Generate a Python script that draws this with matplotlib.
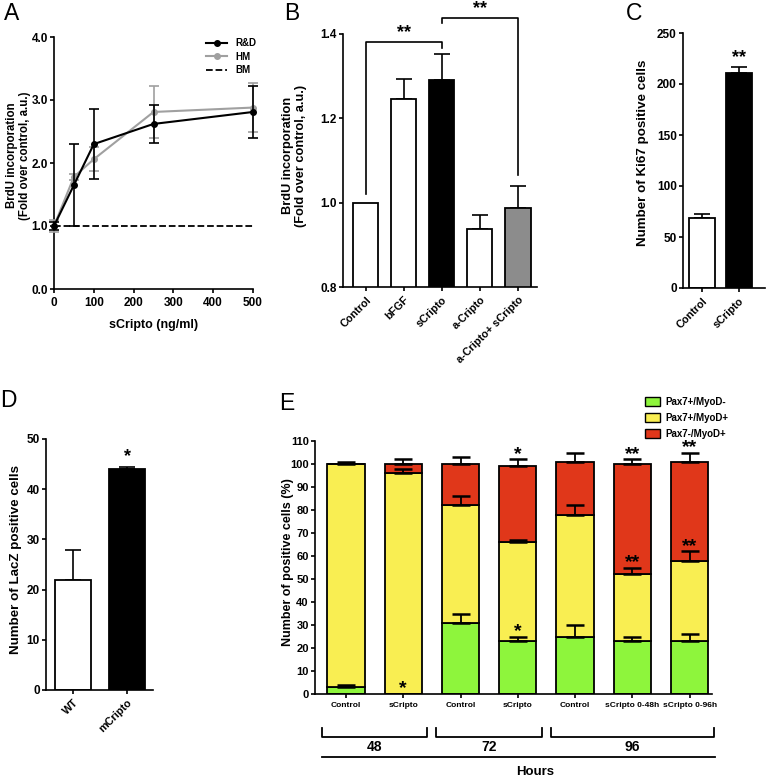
import matplotlib
matplotlib.use('Agg')
import matplotlib.pyplot as plt
import numpy as np
from matplotlib import transforms
from matplotlib import font_manager as fm
from matplotlib.patches import Patch
from matplotlib.lines import Line2D

W, H = 768, 780
plt.rcParams['font.family'] = ['Liberation Sans', 'DejaVu Sans']
plt.rcParams['font.weight'] = 'bold'
plt.rcParams['axes.labelweight'] = 'bold'
plt.rcParams['axes.linewidth'] = 1.2
plt.rcParams['xtick.major.width'] = 1.2
plt.rcParams['ytick.major.width'] = 1.2
plt.rcParams['xtick.major.size'] = 3
plt.rcParams['ytick.major.size'] = 3

# narrow bold font for the crowded labels of panel E, if installed
_has_narrow_bold = any(f.name == 'Liberation Sans Narrow' and f.weight in (700, 'bold')
                       for f in fm.fontManager.ttflist)
if _has_narrow_bold:
    E_TICK_FONT = dict(family=['Liberation Sans Narrow', 'Liberation Sans'], size=7.2)
else:
    E_TICK_FONT = dict(family=['Liberation Sans', 'DejaVu Sans'], size=6.0)

# ---------------- data ----------------
# Panel A
dose = [0, 50, 100, 250, 500]
rd_mean = [1.0, 1.65, 2.30, 2.62, 2.81]
rd_err = [0.07, 0.65, 0.55, 0.30, 0.42]
hm_mean = [1.0, 1.78, 2.06, 2.81, 2.88]
hm_err = [0.10, 0.05, 0.19, 0.41, 0.39]
bm_level = 1.0
a_series = ['R&D', 'HM', 'BM']

# Panel B
b_cats = ['Control', 'bFGF', 'sCripto', 'a-Cripto', 'a-Cripto+ sCripto']
b_mean = [1.0, 1.245, 1.29, 0.937, 0.988]
b_err = [0.0, 0.048, 0.063, 0.033, 0.052]
b_colors = ['white', 'white', 'black', 'white', '#8c8c8c']

# Panel C
c_cats = ['Control', 'sCripto']
c_mean = [69, 211]
c_err = [4, 6]
c_colors = ['white', 'black']

# Panel D
d_cats = ['WT', 'mCripto']
d_mean = [22, 44]
d_err = [5.8, 0.5]
d_colors = ['white', 'black']

# Panel E
e_cats = ['Control', 'sCripto', 'Control', 'sCripto', 'Control', 'sCripto 0-48h', 'sCripto 0-96h']
e_green = [3, 0, 31, 23, 25, 23, 23]
e_green_err = [1, 0, 4, 2, 5, 2, 3]
e_yellow = [97, 96, 51, 43, 53, 29, 35]
e_yellow_err = [0, 2, 4, 1, 4, 3, 4]
e_red = [0, 4, 18, 33, 23, 48, 43]
e_red_err = [1, 2, 3, 3, 4, 2, 4]
e_series = ['Pax7+/MyoD-', 'Pax7+/MyoD+', 'Pax7-/MyoD+']
e_colors = ['#8ef53c', '#f9ee52', '#e0371a']
hours = ['48', '72', '96']
hour_sizes = [2, 2, 3]
# (bar index, segment, stars)
e_stars = [(1, 0, '*'), (3, 0, '*'), (3, 2, '*'), (5, 1, '**'), (5, 2, '**'), (6, 1, '**'), (6, 2, '**')]


def rect(l, t, r, b):
    return [l / W, 1 - b / H, (r - l) / W, (b - t) / H]


def style(ax):
    for s in ['top', 'right']:
        ax.spines[s].set_visible(False)
    ax.tick_params(direction='out', labelsize=8.5)
    ax.tick_params(axis='y', pad=1.5)
    ax.tick_params(axis='x', pad=2.5)


fig = plt.figure(figsize=(W / 100, H / 100), dpi=100)
LETTER = dict(fontsize=16.5, fontweight='normal', va='top', family='Liberation Sans')

# ---------------- A ----------------
axA = fig.add_axes(rect(54, 37, 253, 289))
style(axA)
a_colors = ['black', '#a0a0a0']
axA.errorbar(dose, hm_mean, yerr=hm_err, color=a_colors[1], marker='o', ms=4, lw=1.5,
             capsize=3.5, elinewidth=1.2, capthick=1.2, clip_on=False, zorder=3)
axA.errorbar(dose, rd_mean, yerr=rd_err, color=a_colors[0], marker='o', ms=4, lw=1.5,
             capsize=3.5, elinewidth=1.2, capthick=1.2, clip_on=False, zorder=4)
axA.plot([dose[0], dose[-1]], [bm_level, bm_level], 'k--', lw=1.3)
axA.set_xlim(0, 500)
axA.set_ylim(0, 4)
axA.set_xticks([0, 100, 200, 300, 400, 500])
axA.set_yticks([0, 1, 2, 3, 4])
axA.set_yticklabels(['0.0', '1.0', '2.0', '3.0', '4.0'])
axA.set_xlabel('sCripto (ng/ml)', fontsize=9)
axA.set_ylabel('BrdU incorporation\n(Fold over control, a.u.)', fontsize=8.3, linespacing=1.1)
axA.yaxis.set_label_coords(-0.118, 0.53)
axA.xaxis.set_label_coords(0.5, -0.12)
leg_handles = [Line2D([], [], color=a_colors[0], marker='o', ms=4, lw=1.5),
               Line2D([], [], color=a_colors[1], marker='o', ms=4, lw=1.5),
               Line2D([], [], color='black', ls='--', lw=1.3)]
axA.legend(leg_handles, a_series, loc='upper right', frameon=False,
           fontsize=7, handlelength=2.2, bbox_to_anchor=(1.06, 1.03), labelspacing=0.35)
fig.text(4 / W, 1 - 2 / H, 'A', **LETTER)

# ---------------- B ----------------
axB = fig.add_axes(rect(343, 34, 537, 287))
style(axB)
xb = np.arange(len(b_cats))
axB.bar(xb, b_mean, width=0.66, color=b_colors, edgecolor='black', linewidth=1.3, zorder=2)
for xi, m, e in zip(xb, b_mean, b_err):
    if e > 0:
        axB.errorbar(xi, m, yerr=[[0], [e]], color='black', capsize=6, elinewidth=1.2, capthick=1.2, zorder=1)
axB.set_ylim(0.8, 1.4)
axB.set_xlim(-0.6, 4.5)
axB.set_yticks([0.8, 1.0, 1.2, 1.4])
axB.set_xticks(xb)
axB.set_xticklabels(b_cats, rotation=45, ha='right', rotation_mode='anchor', fontsize=7.8)
axB.set_ylabel('BrdU incorporation\n(Fold over control, a.u.)', fontsize=9.2, linespacing=1.1)
axB.yaxis.set_label_coords(-0.185, 0.52)
# significance brackets
axB.plot([0, 0, 2, 2], [1.021, 1.381, 1.381, 1.367], color='black', lw=1.2, clip_on=False)
axB.text(1, 1.383, '**', ha='center', va='bottom', fontsize=13)
axB.plot([2, 2, 4, 4], [1.426, 1.438, 1.438, 1.066], color='black', lw=1.2, clip_on=False)
axB.text(3, 1.44, '**', ha='center', va='bottom', fontsize=13)
fig.text(284 / W, 1 - 2 / H, 'B', **LETTER)

# ---------------- C ----------------
axC = fig.add_axes(rect(683, 33, 765, 288))
style(axC)
xc = np.arange(len(c_cats))
axC.bar(xc, c_mean, width=0.68, color=c_colors, edgecolor='black', linewidth=1.3, zorder=2)
for xi, m, e in zip(xc, c_mean, c_err):
    axC.errorbar(xi, m, yerr=[[0], [e]], color='black', capsize=6, elinewidth=1.2, capthick=1.2, zorder=1)
axC.text(xc[1], c_mean[1] + c_err[1] + 1, '**', ha='center', va='bottom', fontsize=13)
axC.set_ylim(0, 250)
axC.set_xlim(-0.51, 1.7)
axC.set_yticks([0, 50, 100, 150, 200, 250])
axC.set_xticks(xc)
axC.set_xticklabels(c_cats, rotation=45, ha='right', rotation_mode='anchor', fontsize=7.8)
axC.set_ylabel('Number of Ki67 positive cells', fontsize=9.6)
axC.yaxis.set_label_coords(-0.41, 0.53)
fig.text(626 / W, 1 - 2 / H, 'C', **LETTER)

# ---------------- D ----------------
axD = fig.add_axes(rect(46, 439, 153, 690))
style(axD)
xd = np.arange(len(d_cats))
axD.bar(xd, d_mean, width=0.67, color=d_colors, edgecolor='black', linewidth=1.3, zorder=2)
for xi, m, e in zip(xd, d_mean, d_err):
    axD.errorbar(xi, m, yerr=[[0], [e]], color='black', capsize=6, elinewidth=1.2, capthick=1.2, zorder=1)
axD.text(xd[1], d_mean[1] + d_err[1] + 0.3, '*', ha='center', va='bottom', fontsize=13)
axD.set_ylim(0, 50)
axD.set_xlim(-0.5, 1.48)
axD.set_yticks([0, 10, 20, 30, 40, 50])
axD.set_xticks(xd)
axD.set_xticklabels(d_cats, rotation=45, ha='right', rotation_mode='anchor', fontsize=7.8)
axD.set_ylabel('Number of LacZ positive cells', fontsize=9.6)
axD.yaxis.set_label_coords(-0.22, 0.52)
fig.text(0 / W, 1 - 389 / H, 'D', **LETTER)

# ---------------- E ----------------
axE = fig.add_axes(rect(315, 441, 712, 694))
style(axE)
xe = np.arange(len(e_cats))
segs = [e_green, e_yellow, e_red]
errs = [e_green_err, e_yellow_err, e_red_err]
bottom = np.zeros(len(e_cats))
tops = []
for k in range(3):
    vals = np.array(segs[k], dtype=float)
    axE.bar(xe, vals, bottom=bottom, width=0.65, color=e_colors[k], edgecolor='black',
            linewidth=1.3, zorder=2, label=e_series[k])
    top = bottom + vals
    tops.append(top.copy())
    for xi, tv, ev in zip(xe, top, errs[k]):
        if ev > 0:
            axE.errorbar(xi, tv, yerr=[[0], [ev]], color='black', capsize=6.5, elinewidth=1.3,
                         capthick=1.8, zorder=3)
    bottom = top
for bi, seg, st in e_stars:
    y = tops[seg][bi] + errs[seg][bi]
    axE.text(bi, y - 1.5, st, ha='center', va='bottom', fontsize=14, zorder=4)
axE.set_ylim(0, 110)
axE.set_xlim(-0.54, 6.39)
axE.set_yticks(np.arange(0, 111, 10))
axE.tick_params(axis='y', labelsize=8)
axE.set_xticks(xe)
axE.set_xticklabels(e_cats)
for t in axE.get_xticklabels():
    t.set_family(E_TICK_FONT['family'])
    t.set_fontsize(E_TICK_FONT['size'])
axE.set_ylabel('Number of positive cells (%)', fontsize=9)
axE.yaxis.set_label_coords(-0.053, 0.52)
axE.legend(handles=[Patch(facecolor=c, edgecolor='black', linewidth=1.0) for c in e_colors],
           labels=e_series, loc='upper left', bbox_to_anchor=(0.81, 1.21),
           frameon=False, fontsize=7, handlelength=1.5, handleheight=1.1, labelspacing=0.62,
           handletextpad=0.6)
# group brackets
tr = transforms.blended_transform_factory(axE.transData, fig.transFigure)
start = 0
for lab, n in zip(hours, hour_sizes):
    x0 = xe[start] - 0.42
    x1 = xe[start + n - 1] + 0.42
    yb, yt = 1 - 737 / H, 1 - 728 / H
    fig.add_artist(Line2D([x0, x0, x1, x1], [yt, yb, yb, yt], color='black', lw=1.3, transform=tr))
    fig.text((x0 + x1) / 2, 1 - 740 / H, lab, transform=tr, ha='center', va='top', fontsize=10)
    start += n
fig.add_artist(Line2D([xe[0] - 0.42, xe[-1] + 0.44], [1 - 757 / H, 1 - 757 / H], color='black',
                      lw=1.3, transform=tr))
fig.text((xe[0] + xe[-1]) / 2 + 0.3, 1 - 766 / H, 'Hours', transform=tr, ha='center', va='top', fontsize=9.5)
fig.text(279 / W, 1 - 392 / H, 'E', **LETTER)

fig.savefig('out.png', dpi=100)
